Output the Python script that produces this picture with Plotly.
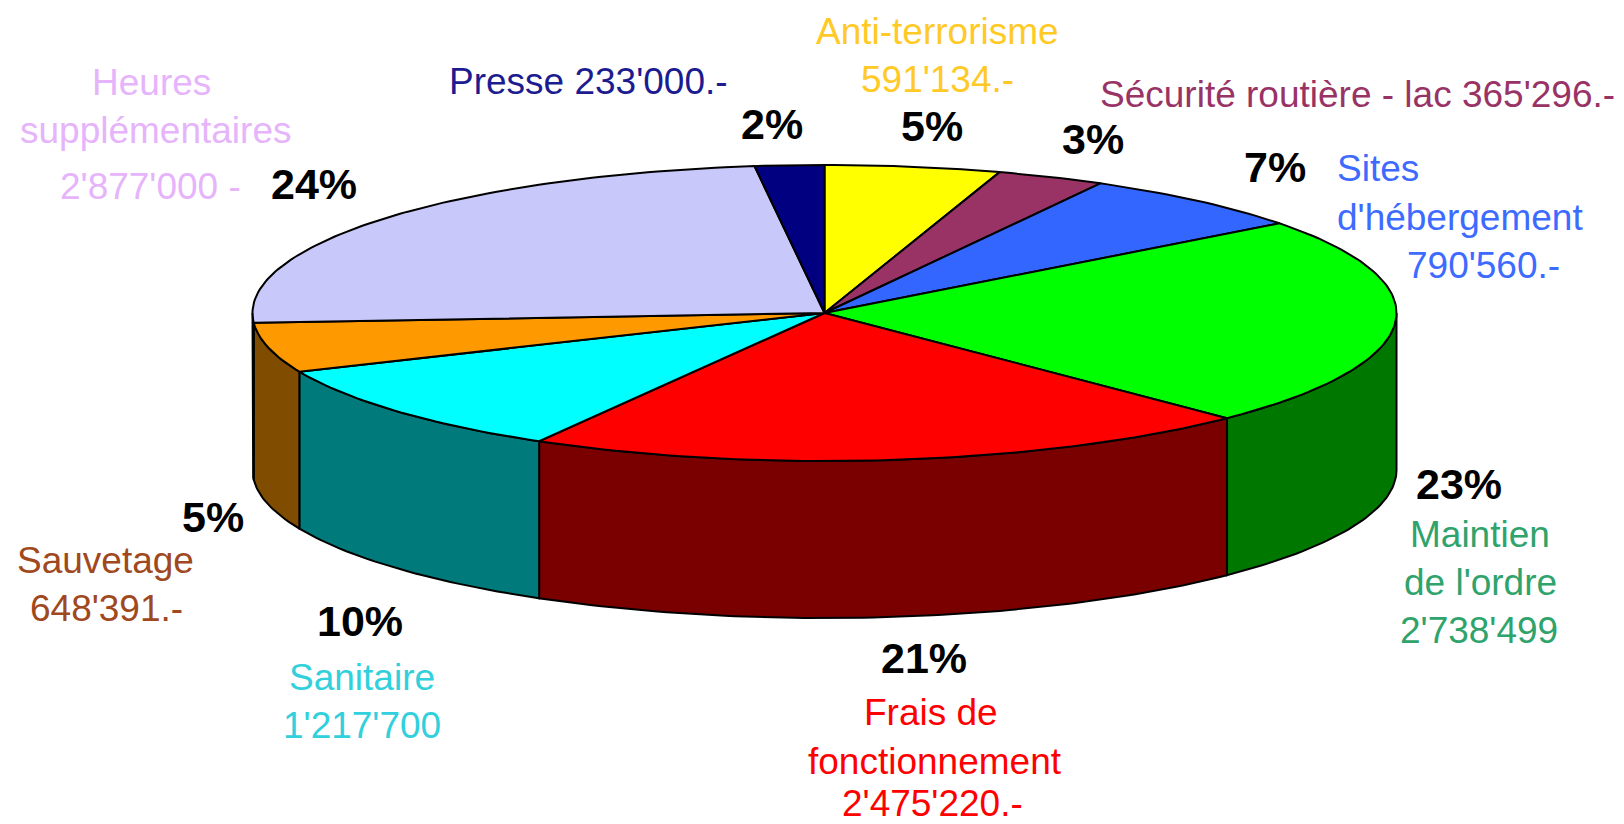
import math
import plotly.graph_objects as go

# Data (clockwise from 12 o'clock)
categories = ["Anti-terrorisme", "Sécurité routière - lac", "Sites d'hébergement",
              "Maintien de l'ordre", "Frais de fonctionnement", "Sanitaire",
              "Sauvetage", "Heures supplémentaires", "Presse"]
values = [591134, 365296, 790560, 2738499, 2475220, 1217700, 648391, 2877000, 233000]
top_colors = ["#ffff00", "#993366", "#3366ff", "#00ff00", "#ff0000",
              "#00ffff", "#ff9900", "#c8c8fb", "#000080"]
wall_colors = ["#808000", "#4d1a33", "#1a3380", "#007800", "#7a0000",
               "#007a7a", "#804c00", "#804c00", "#000040"]

# Label texts (one entry per line)
label_lines = ["Anti-terrorisme", "591'134.-", "Sécurité routière - lac 365'296.-",
               "Sites", "d'hébergement", "790'560.-",
               "Maintien", "de l'ordre", "2'738'499",
               "Frais de", "fonctionnement", "2'475'220.-",
               "Sanitaire", "1'217'700",
               "Sauvetage", "648'391.-",
               "Heures", "supplémentaires", "2'877'000 -",
               "Presse 233'000.-"]
label_colors = ["#ffc926", "#ffc926", "#993366",
                "#3d6bff", "#3d6bff", "#3d6bff",
                "#2fa36c", "#2fa36c", "#2fa36c",
                "#ff0000", "#ff0000", "#ff0000",
                "#30d0dc", "#30d0dc",
                "#a0481e", "#a0481e",
                "#e6b4fb", "#e6b4fb", "#e6b4fb",
                "#1c1c90"]
label_x = [937, 937, 1357, 1378, 1460, 1483, 1480, 1480, 1479, 931, 935, 932,
           362, 362, 105, 106, 151, 155, 150, 588]
label_y = [31, 79, 94, 168, 217, 265, 534, 582, 630, 712, 761, 803,
           677, 725, 560, 608, 82, 130, 186, 81]

pct_labels = ["5%", "3%", "7%", "23%", "21%", "10%", "5%", "24%", "2%"]
pct_x = [932, 1093, 1275, 1459, 924, 360, 213, 314, 772]
pct_y = [126, 139, 167, 484, 658, 621, 517, 184, 124]

# Pie geometry in the pixel-sized plot coordinate system
CX, CY, RX, RY, DEPTH = 824.5, 313, 572, 148, 157
FONT = "Liberation Sans"


def point(deg, drop=0.0):
    a = math.radians(deg)
    return CX + RX * math.sin(a), CY - RY * math.cos(a) + drop


def arc(a0, a1, drop=0.0):
    n = max(2, int(abs(a1 - a0)) + 2)
    pts = [point(a0 + (a1 - a0) * i / (n - 1), drop) for i in range(n)]
    return [p[0] for p in pts], [p[1] for p in pts]


total = sum(values)
edges = [0.0]
for v in values:
    edges.append(edges[-1] + 360.0 * v / total)

fig = go.Figure()
LINE = dict(color="#000000", width=2)

# Side walls
for i, cat in enumerate(categories):
    a0, a1 = max(edges[i], 90), min(edges[i + 1], 270)
    if a1 <= a0:
        continue
    tx, ty = arc(a0, a1)
    bx, by = arc(a1, a0, DEPTH)
    fig.add_trace(go.Scatter(x=tx + bx + tx[:1], y=ty + by + ty[:1], mode="lines",
                             fill="toself", fillcolor=wall_colors[i], line=LINE,
                             name=cat + " (side)", hoverinfo="skip", showlegend=False))

# Top slices
for i, cat in enumerate(categories):
    tx, ty = arc(edges[i], edges[i + 1])
    fig.add_trace(go.Scatter(x=[CX] + tx + [CX], y=[CY] + ty + [CY], mode="lines",
                             fill="toself", fillcolor=top_colors[i], line=LINE,
                             name=cat, hoverinfo="name", showlegend=False))

annotations = []
for t, c, x, y in zip(label_lines, label_colors, label_x, label_y):
    annotations.append(dict(x=x, y=y, text=t, showarrow=False, xanchor="center", yanchor="middle",
                            font=dict(family=FONT, size=37, color=c)))
for t, x, y in zip(pct_labels, pct_x, pct_y):
    annotations.append(dict(x=x, y=y, text=f"<b>{t}</b>", showarrow=False, xanchor="center", yanchor="middle",
                            font=dict(family=FONT, size=43, color="#000000")))

fig.update_layout(
    width=1624, height=824, margin=dict(l=0, r=0, t=0, b=0),
    paper_bgcolor="#ffffff", plot_bgcolor="#ffffff", showlegend=False,
    xaxis=dict(range=[0, 1624], visible=False, fixedrange=True),
    yaxis=dict(range=[824, 0], visible=False, fixedrange=True),
    annotations=annotations,
)

fig.write_html("out.html", config={"displayModeBar": False},
               post_script="document.body.style.margin='0';document.body.style.overflow='hidden';")
